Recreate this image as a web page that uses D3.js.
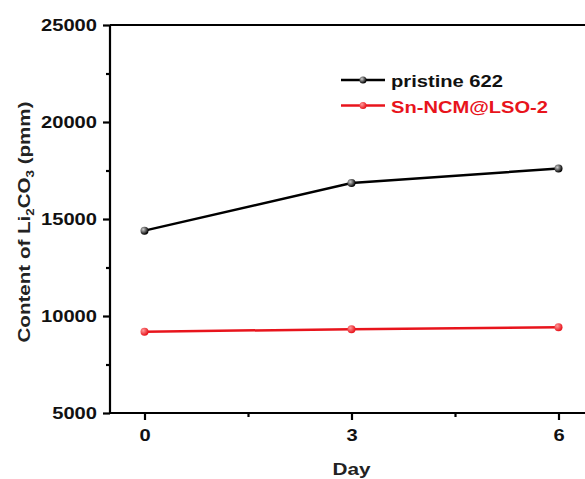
<!DOCTYPE html>
<html>
<head>
<meta charset="utf-8">
<script src="https://cdn.jsdelivr.net/npm/d3@7"></script>
<style>
  body { margin: 0; background: #fff; }
  text { font-family: "Liberation Sans", Arial, sans-serif; font-weight: bold; }
</style>
</head>
<body>
<div id="chart"></div>
<script>
'use strict';

// data
const days = [0, 3, 6];
const pristine = [14400, 16850, 17600];
const coated = [9190, 9320, 9420];
const seriesNames = ['pristine 622', 'Sn-NCM@LSO-2'];
const seriesColors = ['#000000', '#e8141c'];
const yTicks = [5000, 10000, 15000, 20000, 25000];
const xTicks = [0, 3, 6];

const width = 585, height = 479;
const margin = { top: 25, right: -8, bottom: 66, left: 110 };

const svg = d3.select('#chart').append('svg')
    .attr('width', width)
    .attr('height', height);

const defs = svg.append('defs');
seriesColors.forEach((c, i) => {
    let g = defs.append('radialGradient')
        .attr('id', 'ball' + i)
        .attr('cx', '35%').attr('cy', '35%').attr('r', '65%');
    g.append('stop').attr('offset', '0%').attr('stop-color', i === 0 ? '#cfcfcf' : '#ff9a9a');
    g.append('stop').attr('offset', '100%').attr('stop-color', c);
});

let x = d3.scaleLinear().domain([-0.5, 6.5]).range([margin.left, width - margin.right]);
let y = d3.scaleLinear().domain([5000, 25000]).range([height - margin.bottom, margin.top]);

// top frame line
svg.append('line')
    .attr('x1', x(-0.5)).attr('x2', x(6.5))
    .attr('y1', y(25000)).attr('y2', y(25000))
    .attr('stroke', '#000').attr('stroke-width', 2.2);

// y axis
let yAxis = svg.append('g')
    .attr('transform', 'translate(' + margin.left + ',0)')
    .call(d3.axisLeft(y).tickValues(yTicks).tickSize(7).tickPadding(6).tickFormat(d3.format('d')));
svg.append('g')
    .attr('transform', 'translate(' + margin.left + ',0)')
    .call(d3.axisLeft(y).tickValues([7500, 12500, 17500, 22500]).tickSize(4).tickFormat(''))
    .call(g => g.select('.domain').remove());

// x axis
let xAxis = svg.append('g')
    .attr('transform', 'translate(0,' + y(5000) + ')')
    .call(d3.axisBottom(x).tickValues(xTicks).tickSize(7).tickPadding(9).tickFormat(d3.format('d')));
svg.append('g')
    .attr('transform', 'translate(0,' + y(5000) + ')')
    .call(d3.axisBottom(x).tickValues([1.5, 4.5]).tickSize(4).tickFormat(''))
    .call(g => g.select('.domain').remove());

svg.selectAll('.domain').attr('stroke-width', 2.2);
svg.selectAll('.tick line').attr('stroke-width', 2.2);
svg.selectAll('.tick text')
    .style('font-size', '17px')
    .attr('fill', '#111')
    .attr('textLength', function() { return this.textContent.length * 11.2; })
    .attr('lengthAdjust', 'spacingAndGlyphs');

// axis paths without outer ticks
yAxis.select('.domain').attr('d', 'M0,' + y(25000) + 'V' + y(5000));
xAxis.select('.domain').attr('d', 'M' + x(-0.5) + ',0H' + x(6.5));

// series
let line = d3.line().x((d, i) => x(days[i])).y(d => y(d));
[pristine, coated].forEach((vals, s) => {
    svg.append('path')
        .datum(vals)
        .attr('d', line)
        .attr('fill', 'none')
        .attr('stroke', seriesColors[s])
        .attr('stroke-width', 2.5);
    svg.selectAll('.pt' + s)
        .data(vals)
        .enter().append('circle')
        .attr('cx', (d, i) => x(days[i]))
        .attr('cy', d => y(d))
        .attr('r', 4)
        .attr('fill', 'url(#ball' + s + ')');
});

// legend
const legendLen = [112, 157];
let legend = svg.append('g').attr('transform', 'translate(341,80)');
seriesNames.forEach((name, i) => {
    let g = legend.append('g').attr('transform', 'translate(0,' + i * 25.5 + ')');
    g.append('line').attr('x1', 0).attr('x2', 44).attr('y1', 0).attr('y2', 0)
        .attr('stroke', seriesColors[i]).attr('stroke-width', 2.5);
    g.append('circle').attr('cx', 22).attr('cy', 0).attr('r', 3.5)
        .attr('fill', 'url(#ball' + i + ')');
    g.append('text').attr('x', 50).attr('y', 7)
        .style('font-size', '17px')
        .attr('fill', i === 0 ? '#111' : seriesColors[i])
        .attr('textLength', legendLen[i])
        .attr('lengthAdjust', 'spacingAndGlyphs')
        .text(name);
});

// axis titles
svg.append('text')
    .attr('x', x(3)).attr('y', 475)
    .attr('text-anchor', 'middle')
    .style('font-size', '17px')
    .attr('fill', '#222')
    .attr('textLength', 38)
    .attr('lengthAdjust', 'spacingAndGlyphs')
    .text('Day');

let yt = svg.append('text')
    .attr('transform', 'translate(30,' + 222 + ') rotate(-90)')
    .attr('text-anchor', 'middle')
    .style('font-size', '17px')
    .attr('fill', '#222')
    .attr('textLength', 241)
    .attr('lengthAdjust', 'spacingAndGlyphs');
yt.append('tspan').text('Content of Li');
yt.append('tspan').attr('dy', 4).style('font-size', '11px').text('2');
yt.append('tspan').attr('dy', -4).text('CO');
yt.append('tspan').attr('dy', 4).style('font-size', '11px').text('3');
yt.append('tspan').attr('dy', -4).text(' (pmm)');
</script>
</body>
</html>
